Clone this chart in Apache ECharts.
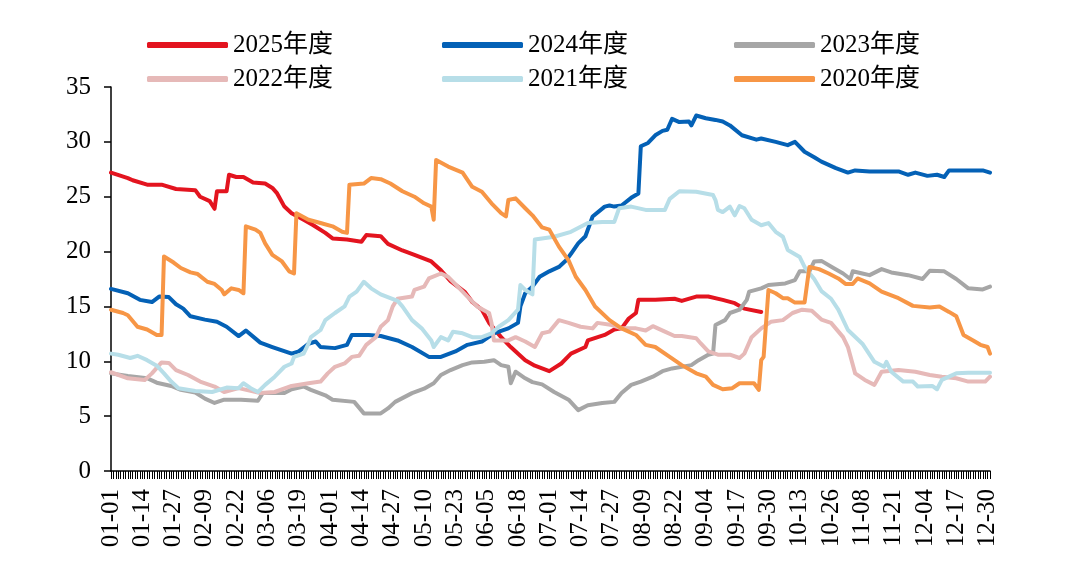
<!DOCTYPE html>
<html>
<head>
<meta charset="utf-8">
<script src="https://cdn.jsdelivr.net/npm/echarts@6/dist/echarts.min.js"></script>
<style>
html,body{margin:0;padding:0;background:#fff;}
#chart{width:1080px;height:568px;}
</style>
</head>
<body>
<div id="chart"></div>
<script>
// Category labels: every day of a (leap) year, MM-DD
var monthDays = [31,29,31,30,31,30,31,31,30,31,30,31];
var categories = [];
for (var m = 0; m < 12; m++) {
  for (var d = 1; d <= monthDays[m]; d++) {
    categories.push((m < 9 ? '0' : '') + (m + 1) + '-' + (d < 10 ? '0' : '') + d);
  }
}
var yTicks = [0,5,10,15,20,25,30,35];

var seriesNames = ['2025年度','2024年度','2023年度','2022年度','2021年度','2020年度'];

// [dayIndex, value]
var s2025 = [[0,27.2],[7,26.7],[9,26.5],[15,26.1],[21,26.1],[27,25.7],[35,25.6],[37,25.0],[41,24.6],[43,23.9],[44,25.5],[48,25.5],[49,27.0],[52,26.8],[55,26.8],[59,26.3],[64,26.2],[67,25.8],[69,25.3],[72,24.1],[75,23.5],[80,22.9],[84,22.4],[89,21.7],[92,21.2],[98,21.1],[104,20.9],[106,21.5],[112,21.4],[115,20.7],[121,20.1],[126,19.7],[133,19.1],[137,18.3],[141,17.3],[147,16.3],[150,15.4],[154,14.7],[157,13.5],[162,12.2],[166,11.3],[172,10.1],[176,9.6],[182,9.1],[187,9.8],[191,10.7],[197,11.3],[198,11.9],[205,12.4],[209,12.9],[212,13.0],[215,13.9],[218,14.4],[219,15.6],[226,15.6],[234,15.7],[237,15.5],[243,15.9],[248,15.9],[254,15.6],[259,15.3],[263,14.8],[270,14.5]];
var s2024 = [[0,16.6],[7,16.2],[12,15.6],[17,15.4],[20,15.9],[24,15.85],[27,15.2],[30,14.8],[33,14.1],[39,13.8],[44,13.6],[48,13.15],[53,12.3],[56,12.8],[62,11.7],[67,11.3],[75,10.7],[78,10.9],[82,11.6],[85,11.8],[87,11.3],[93,11.2],[98,11.5],[100,12.4],[107,12.4],[112,12.3],[119,11.9],[125,11.3],[132,10.4],[137,10.4],[143,10.9],[148,11.5],[154,11.8],[159,12.55],[165,13.0],[169,13.5],[170,15.0],[172,16.2],[175,16.8],[178,17.7],[182,18.2],[186,18.6],[189,19.2],[191,19.8],[194,20.75],[197,21.4],[200,23.2],[205,24.1],[207,24.2],[209,24.1],[212,24.2],[216,24.9],[219,25.3],[220,29.6],[223,29.9],[226,30.6],[229,31.0],[231,31.1],[233,32.1],[236,31.8],[240,31.85],[241,31.5],[243,32.4],[247,32.15],[251,32.0],[254,31.85],[257,31.5],[262,30.6],[268,30.2],[270,30.3],[276,30.0],[281,29.7],[284,30.0],[288,29.1],[292,28.6],[295,28.2],[301,27.6],[306,27.2],[309,27.4],[315,27.3],[327,27.3],[331,27.0],[334,27.2],[339,26.9],[343,27.0],[346,26.8],[348,27.4],[356,27.4],[362,27.4],[365,27.2]];
var s2023 = [[0,8.9],[7,8.65],[15,8.45],[19,8.05],[25,7.75],[29,7.4],[35,7.15],[39,6.6],[43,6.2],[47,6.5],[54,6.5],[61,6.4],[63,7.1],[72,7.1],[75,7.45],[80,7.7],[83,7.4],[89,6.9],[92,6.5],[101,6.3],[105,5.25],[112,5.25],[115,5.7],[118,6.3],[125,7.1],[130,7.5],[134,8.0],[137,8.75],[141,9.2],[146,9.65],[150,9.9],[155,9.95],[159,10.1],[162,9.65],[165,9.5],[166,8.0],[168,9.05],[172,8.45],[175,8.1],[179,7.9],[184,7.2],[190,6.5],[194,5.55],[198,6.0],[204,6.2],[209,6.3],[212,7.1],[216,7.85],[220,8.15],[225,8.6],[229,9.1],[233,9.35],[241,9.65],[244,10.1],[248,10.6],[250,10.7],[251,13.3],[255,13.75],[257,14.4],[261,14.7],[264,15.6],[265,16.35],[270,16.65],[273,16.95],[280,17.1],[284,17.4],[286,18.2],[290,18.2],[292,19.1],[295,19.15],[300,18.5],[304,18.0],[307,17.5],[308,18.2],[312,18.0],[315,17.85],[320,18.4],[324,18.1],[331,17.85],[337,17.5],[340,18.25],[346,18.2],[351,17.5],[356,16.65],[362,16.55],[365,16.8]];
var s2022 = [[0,9.0],[7,8.45],[14,8.3],[17,8.9],[21,9.9],[24,9.85],[27,9.2],[32,8.75],[37,8.15],[43,7.7],[47,7.2],[53,7.55],[62,7.1],[68,7.2],[75,7.75],[82,8.0],[87,8.15],[90,8.9],[93,9.5],[97,9.8],[100,10.4],[103,10.5],[106,11.5],[110,12.2],[112,13.15],[115,13.75],[117,15.0],[119,15.7],[125,15.9],[126,16.5],[130,16.8],[132,17.55],[137,18.0],[140,17.7],[144,16.8],[148,15.9],[152,15.0],[157,14.4],[158,13.5],[159,11.9],[165,11.9],[168,12.2],[172,11.8],[176,11.3],[179,12.55],[182,12.7],[186,13.75],[190,13.5],[195,13.15],[200,13.0],[202,13.5],[208,13.3],[212,13.0],[218,13.0],[222,12.8],[225,13.2],[230,12.7],[234,12.3],[237,12.3],[243,12.1],[245,11.6],[248,10.9],[252,10.6],[257,10.6],[261,10.3],[263,10.7],[266,12.2],[270,13.0],[274,13.6],[279,13.75],[283,14.4],[287,14.7],[291,14.6],[295,13.8],[299,13.5],[304,12.2],[306,11.3],[309,8.9],[313,8.3],[317,7.85],[320,9.05],[327,9.2],[334,9.05],[340,8.75],[345,8.6],[351,8.45],[356,8.15],[363,8.15],[365,8.6]];
var s2021 = [[0,10.7],[3,10.6],[8,10.3],[11,10.5],[15,10.1],[19,9.6],[22,8.9],[25,8.15],[28,7.55],[35,7.3],[42,7.2],[48,7.6],[53,7.55],[55,8.0],[58,7.55],[61,7.2],[64,7.85],[68,8.6],[72,9.5],[75,9.8],[76,10.4],[80,10.7],[82,11.6],[83,12.2],[87,12.85],[89,13.75],[93,14.4],[97,15.0],[99,15.9],[102,16.35],[105,17.25],[108,16.65],[112,16.1],[116,15.75],[119,15.5],[121,15.0],[125,13.75],[129,13.0],[133,11.9],[134,11.3],[137,12.2],[140,11.9],[142,12.7],[146,12.55],[150,12.2],[154,12.2],[158,12.55],[161,13.15],[165,13.75],[169,14.7],[170,16.95],[172,16.5],[175,16.1],[176,21.1],[184,21.35],[191,21.8],[198,22.6],[204,22.7],[209,22.7],[211,23.95],[216,24.1],[222,23.8],[230,23.8],[232,24.8],[236,25.5],[243,25.45],[250,25.15],[251,24.7],[252,23.8],[254,23.6],[257,24.1],[259,23.3],[261,24.15],[263,23.95],[266,22.9],[270,22.4],[273,22.6],[276,21.8],[279,21.35],[281,20.15],[286,19.5],[288,18.6],[292,17.5],[295,16.4],[299,15.7],[302,14.7],[306,12.85],[312,11.6],[317,9.95],[321,9.5],[322,9.95],[324,9.05],[329,8.15],[333,8.15],[335,7.7],[341,7.75],[343,7.45],[345,8.3],[351,8.9],[356,8.95],[365,8.95]];
var s2020 = [[0,14.7],[5,14.4],[7,14.2],[11,13.15],[15,12.9],[19,12.4],[21,12.4],[22,19.55],[26,19.0],[29,18.5],[33,18.1],[36,17.95],[40,17.25],[43,17.05],[46,16.5],[47,16.1],[50,16.65],[53,16.5],[55,16.2],[56,22.3],[60,22.0],[62,21.7],[64,20.75],[67,19.7],[71,19.1],[74,18.2],[76,18.0],[77,23.5],[82,22.9],[87,22.6],[92,22.3],[96,21.8],[98,21.7],[99,26.1],[105,26.2],[108,26.7],[112,26.6],[116,26.2],[121,25.5],[126,25.0],[130,24.4],[133,24.1],[134,22.9],[135,28.35],[140,27.75],[146,27.2],[150,25.9],[154,25.45],[158,24.4],[162,23.5],[164,23.2],[165,24.7],[168,24.85],[172,23.95],[175,23.3],[179,22.2],[182,22.0],[186,20.45],[190,19.2],[193,17.7],[197,16.5],[201,15.0],[207,13.75],[212,13.0],[218,12.4],[222,11.5],[226,11.3],[232,10.4],[237,9.65],[243,8.9],[247,8.6],[250,7.85],[254,7.45],[258,7.55],[261,8.0],[267,8.0],[269,7.4],[270,10.1],[271,10.4],[273,16.5],[276,16.2],[279,15.75],[281,15.75],[284,15.35],[288,15.35],[290,18.6],[294,18.4],[298,18.0],[302,17.55],[305,17.05],[308,17.05],[310,17.55],[315,17.1],[320,16.35],[327,15.75],[333,15.05],[340,14.9],[344,15.0],[348,14.5],[351,14.1],[354,12.4],[358,11.9],[361,11.5],[364,11.3],[365,10.7]];

var seriesData = [s2025, s2024, s2023, s2022, s2021, s2020];
var colors = ['#E3141F', '#0461B6', '#A6A6A6', '#E6B9B8', '#B7DEE8', '#F79646'];

var FONT = "'Liberation Serif', 'Noto Sans CJK SC', serif";

function makeLegend(names, left) {
  return {
    orient: 'vertical',
    left: left,
    top: 32,
    itemWidth: 81,
    itemHeight: 6,
    itemGap: 8,
    icon: 'roundRect',
    data: names,
    textStyle: { fontFamily: FONT, fontSize: 25, color: '#000', lineHeight: 26, padding: [0, 0, 0, 0] },
    padding: 0
  };
}

var chart = echarts.init(document.getElementById('chart'), null, { renderer: 'canvas' });
chart.setOption({
  animation: false,
  backgroundColor: '#fff',
  color: colors,
  legend: [
    makeLegend([seriesNames[0], seriesNames[3]], 147),
    makeLegend([seriesNames[1], seriesNames[4]], 442),
    makeLegend([seriesNames[2], seriesNames[5]], 734)
  ],
  grid: { left: 111, right: 90, top: 87, bottom: 97, containLabel: false },
  xAxis: {
    type: 'category',
    data: categories,
    boundaryGap: false,
    axisLine: { lineStyle: { color: '#000', width: 1.5 } },
    axisTick: { show: true, interval: 0, length: 8, lineStyle: { color: '#000', width: 1 } },
    axisLabel: { interval: 12, rotate: 90, margin: 18, fontFamily: FONT, fontSize: 25, color: '#000' },
    splitLine: { show: false }
  },
  yAxis: {
    type: 'value',
    min: yTicks[0],
    max: yTicks[yTicks.length - 1],
    interval: 5,
    axisLine: { show: true, lineStyle: { color: '#000', width: 1.5 } },
    axisTick: { show: true, length: 7, lineStyle: { color: '#000', width: 1.5 } },
    axisLabel: { margin: 20, fontFamily: FONT, fontSize: 25, color: '#000' },
    splitLine: { show: false }
  },
  series: seriesNames.map(function (name, i) {
    return {
      name: name,
      type: 'line',
      data: seriesData[i],
      showSymbol: false,
      symbol: 'none',
      lineStyle: { width: 4, color: colors[i], cap: 'round', join: 'round' },
      itemStyle: { color: colors[i] }
    };
  })
});
</script>
</body>
</html>
